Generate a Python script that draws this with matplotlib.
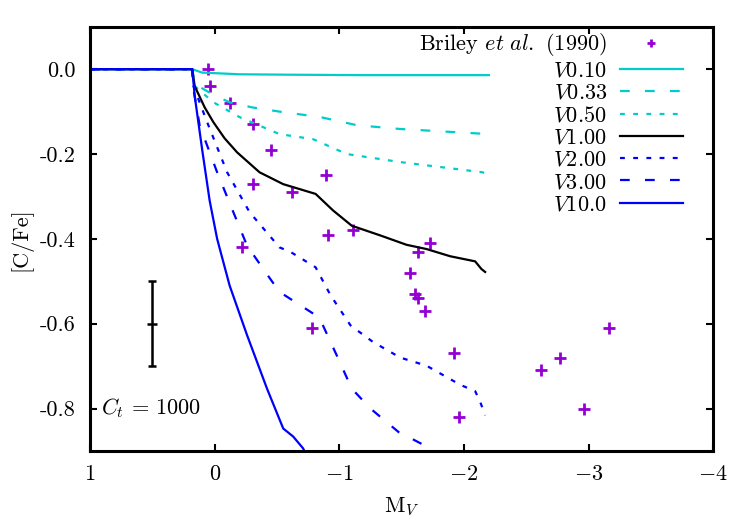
import numpy as np
import matplotlib
matplotlib.use("Agg")
import matplotlib.pyplot as plt

plt.rcParams['font.family'] = 'serif'
plt.rcParams['font.serif'] = ['cmr10', 'DejaVu Serif']
plt.rcParams['mathtext.fontset'] = 'cm'
plt.rcParams['axes.formatter.use_mathtext'] = True
plt.rcParams['lines.scale_dashes'] = False

# Briley et al. (1990) observations
briley_mv = [0.05, 0.04, -0.12, -0.31, -0.45, -0.89, -0.31, -0.62, -0.91, -1.11, -0.22, -0.78,
             -1.73, -1.63, -1.57, -1.61, -1.63, -1.69, -1.92, -1.96, -2.62, -2.77, -3.16, -2.96]
briley_cfe = [0.0, -0.04, -0.08, -0.13, -0.19, -0.25, -0.27, -0.29, -0.39, -0.38, -0.42, -0.61,
              -0.41, -0.43, -0.48, -0.53, -0.54, -0.57, -0.67, -0.82, -0.71, -0.68, -0.61, -0.80]

# model tracks
v010_x = [1.0, 0.18, 0.1, -0.2, -0.6, -1.2, -2.2]
v010_y = [0.0, 0.0, -0.008, -0.012, -0.013, -0.014, -0.014]

v033_x = [1.0, 0.18, 0.16, 0.0, -0.12, -0.3, -0.52, -0.85, -1.14, -1.49, -2.2]
v033_y = [0.0, 0.0, -0.035, -0.062, -0.078, -0.09, -0.10, -0.113, -0.132, -0.141, -0.153]

v050_x = [1.0, 0.18, 0.16, 0.01, -0.2, -0.52, -0.79, -1.06, -1.49, -2.15, -2.2]
v050_y = [0.0, 0.0, -0.04, -0.078, -0.113, -0.153, -0.165, -0.2, -0.219, -0.243, -0.25]

v100_x = [1.0, 0.18, 0.16, 0.08, 0.01, -0.08, -0.18, -0.36, -0.55, -0.81, -0.95, -1.1, -1.33, -1.54,
          -1.70, -1.89, -2.09, -2.14, -2.17]
v100_y = [0.0, 0.0, -0.04, -0.09, -0.125, -0.163, -0.196, -0.243, -0.271, -0.294, -0.333, -0.369, -0.392, -0.414,
          -0.424, -0.441, -0.453, -0.471, -0.478]

v200_x = [1.0, 0.18, 0.17, 0.06, -0.10, -0.28, -0.52, -0.61, -0.81, -0.93, -1.09, -1.27, -1.49,
          -1.70, -1.97, -2.09, -2.13, -2.17]
v200_y = [0.0, 0.0, -0.04, -0.125, -0.243, -0.337, -0.42, -0.431, -0.467, -0.533, -0.604, -0.643, -0.68,
          -0.699, -0.744, -0.759, -0.784, -0.816]

v300_x = [1.0, 0.18, 0.17, 0.12, -0.02, -0.15, -0.26, -0.39, -0.52, -0.79, -0.85, -0.98, -1.1,
          -1.25, -1.49, -1.6, -1.73, -1.8]
v300_y = [0.0, 0.0, -0.047, -0.133, -0.243, -0.337, -0.416, -0.471, -0.525, -0.576, -0.592, -0.675, -0.753,
          -0.80, -0.859, -0.874, -0.894, -0.91]

v1000_x = [1.0, 0.18, 0.16, 0.1, 0.04, -0.02, -0.12, -0.26, -0.42, -0.55, -0.63, -0.71, -0.75]
v1000_y = [0.0, 0.0, -0.063, -0.19, -0.31, -0.40, -0.51, -0.627, -0.753, -0.847, -0.866, -0.894, -0.92]

xticks = [1, 0, -1, -2, -3, -4]
xticklabels = ['$1$', '$0$', '$-1$', '$-2$', '$-3$', '$-4$']
yticks = [0.0, -0.2, -0.4, -0.6, -0.8]
yticklabels = ['0.0', '-0.2', '-0.4', '-0.6', '-0.8']

cyan = '#00cccc'
blue = '#0000ff'
purple = '#9400d3'
dashed = (0, (7, 11))
dotted = (0, (3.5, 6))
fs = 16

fig = plt.figure(figsize=(7.5, 5.25), dpi=100)
ax = fig.add_axes([0.12, 0.141, 0.831, 0.808])

ax.plot(briley_mv, briley_cfe, '+', color=purple, ms=9, mew=2, label='Briley $et\\ al.$ (1990)')
ax.plot(v010_x, v010_y, color=cyan, lw=1.6, label='$V0.10$')
ax.plot(v033_x, v033_y, color=cyan, lw=1.6, ls=dashed, label='$V0.33$')
ax.plot(v050_x, v050_y, color=cyan, lw=1.6, ls=dotted, label='$V0.50$')
ax.plot(v100_x, v100_y, color='black', lw=1.6, label='$V1.00$')
ax.plot(v200_x, v200_y, color=blue, lw=1.6, ls=dotted, label='$V2.00$')
ax.plot(v300_x, v300_y, color=blue, lw=1.6, ls=dashed, label='$V3.00$')
ax.plot(v1000_x, v1000_y, color=blue, lw=1.6, label='$V10.0$')

ax.errorbar([0.5], [-0.6], yerr=[0.1], color='black', lw=1.8, capsize=3, capthick=1.8)
ax.plot([0.5], [-0.6], '_', color='black', ms=7, mew=1.8)
ax.text(0.91, -0.8, '$C_t\\,=\\,1000$', fontsize=fs, va='center', ha='left')

ax.set_xlim(1, -4)
ax.set_ylim(-0.9, 0.1)
ax.set_xticks(xticks)
ax.set_xticklabels(xticklabels)
ax.set_yticks(yticks)
ax.set_yticklabels(yticklabels)
ax.tick_params(direction='in', top=True, right=True, length=5, width=1.5, labelsize=fs, pad=10)
for s in ax.spines.values():
    s.set_linewidth(2.2)

ax.set_xlabel('M$_V$', fontsize=fs, labelpad=8)
ax.set_ylabel('[C/Fe]', fontsize=fs, labelpad=6)

ax.legend(loc='upper right', markerfirst=False, frameon=False, fontsize=fs, markerscale=0.7,
          handlelength=2.8, labelspacing=0.12, borderaxespad=0.0, handletextpad=0.6,
          bbox_to_anchor=(0.965, 1.01))

fig.savefig('out.png', dpi=100)
